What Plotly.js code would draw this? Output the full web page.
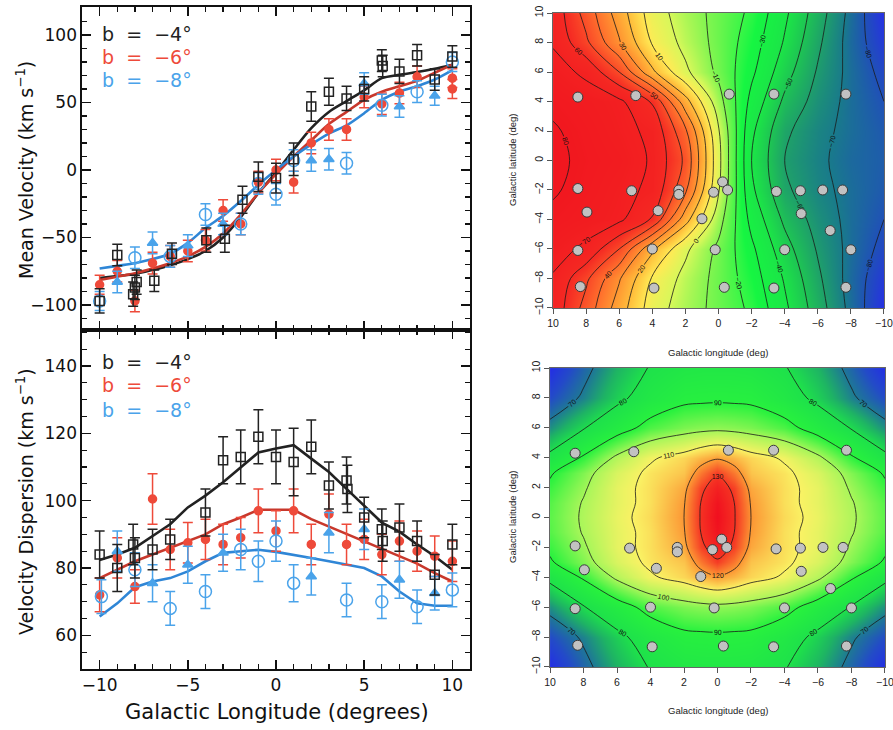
<!DOCTYPE html>
<html>
<head>
<meta charset="utf-8">
<script src="https://cdn.plot.ly/plotly-3.0.1.min.js"></script>
<style>html,body{margin:0;padding:0;background:#fff;}#chart{width:893px;height:730px;}</style>
</head>
<body>
<div id="chart"></div>
<script>
// ---------- Left panels: data ----------
// Mean velocity, b = -4 (black open squares)
const mvL4 = [-10, -9, -8.1, -8.0, -7.9, -6.9, -5.9, -3.95, -2.9, -1.9, -1, 0, 1, 2, 3, 4, 5, 6, 6.05, 7, 8, 9, 10];
const mvV4 = [-97, -63, -92, -87, -83, -82, -62, -52, -51, -22, -5, -6, 8, 47, 58, 53, 60, 81, 77, 73, 85, 67, 84];
const mvE4 = [9, 8, 9, 9, 9, 8, 8, 9, 10, 10, 11, 11, 12, 11, 10, 9, 9, 8, 8, 9, 8, 8, 8];
// Mean velocity, b = -6 (red filled circles)
const mvL6 = [-10, -9, -8, -7, -6, -5, -4, -3, -2, -1, 0, 1, 2, 3, 4, 5, 6, 7, 8, 10, 10];
const mvV6 = [-85, -75, -97, -69, -64, -60, -52, -30, -40, -9, 0, -9, 20, 30, 30, 54, 49, 57, 69, 68, 60];
const mvE6 = [7, 8, 8, 8, 8, 8, 8, 8, 8, 8, 8, 8, 8, 8, 8, 8, 8, 8, 8, 7, 7];
// Mean velocity, b = -8 (blue triangles and open circles)
const mvLt = [-9, -7, -5, -3, 2, 3, 5, 7, 9];
const mvVt = [-83, -54, -56, -40, 7, 8, 64, 47, 55];
const mvLc = [-10, -8, -6, -4, -2, -1, 0, 1, 4, 6, 8, 10];
const mvVc = [-97, -65, -64, -33, -40, -10, -18, 7, 5, 48, 58, 80];
const mvE8t = [8, 8, 8, 8, 8, 8, 8, 8, 7];
const mvE8c = [7, 8, 8, 8, 8, 8, 8, 8, 8, 8, 8, 7];
// Model curves (mean velocity)
const modelL = [-10, -9, -8, -7, -6, -5, -4, -3, -2, -1, 0, 1, 2, 3, 4, 5, 6, 7, 8, 9, 10];
const mvModel4 = [-80, -78.5, -77, -74, -70.5, -66, -60, -50, -35, -17, -2, 15, 31, 43, 51, 59, 68, 70.5, 72.5, 75, 78];
const mvModel6 = [-81.5, -79, -76.5, -73, -69, -64, -57, -47, -33, -17, -3, 10, 22, 34, 43, 52, 58, 62, 66, 72, 78];
const mvModel8 = [-73, -71, -69, -66, -62, -54, -43, -34, -23, -11, 0, 10, 19, 27, 33, 42, 52, 58, 62, 67, 74];

// Velocity dispersion, b = -4
const sdL4 = [-10, -9, -8.1, -8, -7, -6, -4, -3, -2, -1, 0, 1, 2, 3, 4, 4.05, 5, 6, 6.05, 7, 8, 9, 10];
const sdV4 = [84, 80, 87, 83, 85.5, 88.5, 96.5, 112, 113, 119, 113, 111.5, 116, 104.5, 106, 103.5, 95, 91.5, 88, 92, 88, 78, 87];
const sdE4 = [7, 7, 6, 6, 6, 6, 7, 7, 8, 8, 8, 10, 8, 7, 7, 7, 6, 6, 6, 7, 6, 6, 6];
// Velocity dispersion, b = -6
const sdL6 = [-10, -9, -8, -7, -6, -5, -4, -3, -2, -1, 0, 1, 2, 3, 4, 5, 6, 7, 8, 9, 10];
const sdV6 = [72, 83, 74.5, 100.5, 85.5, 87.5, 88.5, 87, 89, 97, 91, 97, 87, 96, 87, 88.5, 84, 88, 85, 83.5, 82];
const sdE6 = [5, 6, 5, 7.5, 6, 6, 6, 6, 6, 6.5, 6, 6.5, 6, 6, 6, 6, 6, 6, 6, 6, 6];
// Velocity dispersion, b = -8
const sdLt = [-9, -7, -5, -3, 2, 3, 5, 7, 9];
const sdVt = [85, 75.5, 81, 84.5, 77.5, 90.5, 91.5, 76.5, 72.5];
const sdLc = [-9.9, -8, -6, -4, -2, -1, 0, 1, 4, 6, 8, 10];
const sdVc = [71.5, 79.5, 68, 73, 85.5, 82, 88, 75.5, 70.5, 70, 68.5, 73.5];
const sdE8t = [6, 5.5, 5.5, 5.5, 5.5, 6, 6, 5.5, 5];
const sdE8c = [5, 5, 5, 5, 6, 6, 6, 5.5, 5, 5, 5, 5];
// Model curves (dispersion)
const sdModel4 = [82.4, 84, 86, 89.5, 93, 98, 101.5, 105.5, 110, 114.3, 115.5, 116.5, 112.5, 108.5, 103.5, 98.5, 93.5, 90.8, 87, 83.5, 79.5];
const sdModel6 = [77, 79.5, 82, 84, 86, 88, 90, 93, 95, 97.3, 97.3, 97.3, 94.5, 92.3, 90, 88, 85.7, 83.4, 81.3, 78.5, 76];
const sdModel8 = [65.6, 69.5, 74.3, 76, 77, 79, 82, 84.5, 85, 85.4, 84.8, 84, 83, 82, 81, 80, 77.5, 73, 69.5, 68.8, 68.8];

// ---------- Right panels: maps ----------
const mapL1 = [10, 8, 6, 4, 2, 0, -2, -4, -6, -8, -10];
const mapB1 = [-10, -8, -6, -4, -2, 0, 2, 4, 6, 8, 10];
const velMap = [
  [67, 46, 25, 5, -5, -13, -22, -38, -55, -73, -90],
  [69, 52, 31, 9, -3, -13, -25, -41, -58, -74, -87],
  [74, 68, 50, 22, 2, -12, -28, -46, -61, -73, -83],
  [78, 75, 72, 59, 24, -6, -33, -52, -64, -73, -80],
  [81, 77, 73, 68, 42, 1, -38, -58, -67, -73, -78],
  [82, 78, 75, 69, 48, 3, -40, -60, -68, -74, -77],
  [81, 77, 73, 68, 42, 1, -38, -58, -67, -73, -78],
  [78, 75, 72, 59, 24, -6, -33, -52, -64, -73, -80],
  [74, 68, 50, 22, 2, -12, -28, -46, -61, -73, -83],
  [69, 52, 31, 9, -3, -13, -25, -41, -58, -74, -87],
  [67, 46, 25, 5, -5, -13, -22, -38, -55, -73, -90]
];
const mapL2 = [10, 8, 6, 4, 2, 1, 0, -1, -2, -4, -6, -8, -10];
const mapB2 = [-10, -8, -6, -4, -3, -2, -1, 0, 1, 2, 3, 4, 6, 8, 10];
const dispMap = [
  [60, 68, 75, 80.5, 83.5, 84, 84, 84, 83.5, 80.5, 75, 68, 60],
  [65, 71, 78, 84, 88, 88.3, 88.5, 88.3, 88, 84, 78, 71, 65],
  [72, 79.5, 86, 93, 96.5, 97.5, 98, 97.5, 96.5, 93, 86, 79.5, 72],
  [82, 91, 101.5, 109, 113, 116.5, 119, 116.5, 113, 109, 101.5, 91, 82],
  [89, 97, 106, 111.5, 115, 123, 129, 123, 115, 111.5, 106, 97, 89],
  [91.5, 99, 107.5, 112, 118, 128.5, 133.5, 128.5, 118, 112, 107.5, 99, 91.5],
  [93.5, 100.5, 107.5, 112, 119.5, 130, 136, 130, 119.5, 112, 107.5, 100.5, 93.5],
  [94, 101, 108, 112.5, 120, 130.5, 137, 130.5, 120, 112.5, 108, 101, 94],
  [93.5, 100.5, 107.5, 112, 119.5, 130, 136, 130, 119.5, 112, 107.5, 100.5, 93.5],
  [91.5, 99, 107.5, 112, 118, 128.5, 133.5, 128.5, 118, 112, 107.5, 99, 91.5],
  [89, 97, 106, 111.5, 115, 123, 129, 123, 115, 111.5, 106, 97, 89],
  [82, 91, 101.5, 109, 113, 116.5, 119, 116.5, 113, 109, 101.5, 91, 82],
  [72, 79.5, 86, 93, 96.5, 97.5, 98, 97.5, 96.5, 93, 86, 79.5, 72],
  [65, 71, 78, 84, 88, 88.3, 88.5, 88.3, 88, 84, 78, 71, 65],
  [60, 68, 75, 80.5, 83.5, 84, 84, 84, 83.5, 80.5, 75, 68, 60]
];
// Field positions (grey points)
const fieldL = [8.5, 5.0, -0.65, -3.35, -7.7, 8.5, 5.25, 2.4, 2.4, 0.3, -0.25, -0.55, -3.5, -4.95, -6.3, -7.5, 7.95, 3.65, 1.0, -5.0, -6.75, 8.5, 4.0, 0.2, -4.0, -8.0, 8.35, 3.9, -0.35, -3.35, -7.7];
const fieldB = [4.3, 4.4, 4.5, 4.5, 4.5, -1.9, -2.05, -2.0, -2.3, -2.15, -1.45, -2.0, -2.1, -2.05, -2.0, -2.0, -3.5, -3.4, -3.95, -3.6, -4.75, -6.1, -6.0, -6.05, -6.05, -6.05, -8.55, -8.65, -8.6, -8.65, -8.6];

// ---------- styling ----------
const BLACK = '#222222', RED = '#ee4a3a', BLUE = '#4aa3ea', BLUEL = '#2f86d6';
const W = 893, H = 730;
const px = v => v / W, py = v => 1 - v / H;

function pts(x, y, e, color, symbol, size, xa, ya, lw) {
  return {x, y, type: 'scatter', mode: 'markers', xaxis: xa, yaxis: ya, showlegend: false,
    marker: {symbol, size, color, line: {color, width: lw || 1.5}},
    error_y: {type: 'data', array: e, visible: true, color, thickness: 1.5, width: 5}};
}
function line(x, y, color, xa, ya, shape) {
  return {x, y, type: 'scatter', mode: 'lines', xaxis: xa, yaxis: ya, showlegend: false,
    line: {color, width: 2.6, shape, smoothing: 0.8}};
}

const traces = [
  line(modelL, mvModel4, BLACK, 'x', 'y', 'spline'),
  line(modelL, mvModel6, '#c8382c', 'x', 'y', 'spline'),
  line(modelL, mvModel8, BLUEL, 'x', 'y', 'spline'),
  pts(mvL6, mvV6, mvE6, RED, 'circle', 8, 'x', 'y'),
  pts(mvLt, mvVt, mvE8t, BLUE, 'triangle-up', 9, 'x', 'y'),
  pts(mvLc, mvVc, mvE8c, BLUE, 'circle-open', 12, 'x', 'y'),
  pts(mvL4, mvV4, mvE4, BLACK, 'square-open', 9, 'x', 'y'),

  line(modelL, sdModel4, BLACK, 'x2', 'y2', 'linear'),
  line(modelL, sdModel6, '#c8382c', 'x2', 'y2', 'linear'),
  line(modelL, sdModel8, BLUEL, 'x2', 'y2', 'linear'),
  pts(sdL6, sdV6, sdE6, RED, 'circle', 8, 'x2', 'y2'),
  pts(sdLt, sdVt, sdE8t, BLUE, 'triangle-up', 9, 'x2', 'y2'),
  pts(sdLc, sdVc, sdE8c, BLUE, 'circle-open', 12, 'x2', 'y2'),
  pts(sdL4, sdV4, sdE4, BLACK, 'square-open', 9, 'x2', 'y2'),

  {type: 'contour', x: mapL1, y: mapB1, z: velMap, xaxis: 'x3', yaxis: 'y3', showscale: false,
   zmin: -92, zmax: 86, zauto: false,
   colorscale: [[0, 'rgb(40,40,240)'], [0.067, 'rgb(32,80,185)'], [0.124, 'rgb(25,122,140)'], [0.18, 'rgb(30,158,108)'],
     [0.236, 'rgb(30,195,85)'], [0.292, 'rgb(28,228,72)'], [0.376, 'rgb(22,246,66)'], [0.461, 'rgb(130,245,80)'],
     [0.517, 'rgb(215,248,90)'], [0.573, 'rgb(255,235,85)'], [0.629, 'rgb(255,190,60)'], [0.685, 'rgb(255,150,50)'],
     [0.742, 'rgb(255,112,45)'], [0.798, 'rgb(250,75,40)'], [0.854, 'rgb(245,42,35)'], [1, 'rgb(240,18,30)']],
   contours: {coloring: 'heatmap', start: -80, end: 80, size: 10, showlabels: true,
     labelfont: {size: 7, color: '#111', family: 'Liberation Sans'}},
   line: {color: '#1a1a1a', width: 0.8, smoothing: 1}, hoverinfo: 'skip'},
  {type: 'scatter', mode: 'markers', x: fieldL, y: fieldB, xaxis: 'x3', yaxis: 'y3', showlegend: false,
   marker: {size: 10, color: '#c2c2c2', line: {color: '#3a3a3a', width: 1}}},

  {type: 'contour', x: mapL2, y: mapB2, z: dispMap, xaxis: 'x4', yaxis: 'y4', showscale: false,
   zmin: 58, zmax: 138, zauto: false,
   colorscale: [[0, 'rgb(35,35,240)'], [0.0875, 'rgb(35,75,200)'], [0.15, 'rgb(30,120,150)'], [0.2125, 'rgb(30,180,100)'],
     [0.275, 'rgb(30,225,75)'], [0.4, 'rgb(40,242,62)'], [0.525, 'rgb(170,246,90)'], [0.65, 'rgb(250,242,100)'],
     [0.775, 'rgb(252,150,52)'], [0.9, 'rgb(245,50,35)'], [1, 'rgb(240,10,30)']],
   contours: {coloring: 'heatmap', start: 70, end: 130, size: 10, showlabels: true,
     labelfont: {size: 7, color: '#111', family: 'Liberation Sans'}},
   line: {color: '#1a1a1a', width: 0.8, smoothing: 1}, hoverinfo: 'skip'},
  {type: 'scatter', mode: 'markers', x: fieldL, y: fieldB, xaxis: 'x4', yaxis: 'y4', showlegend: false,
   marker: {size: 10, color: '#c2c2c2', line: {color: '#3a3a3a', width: 1}}}
];

const LFONT = {family: 'DejaVu Sans', size: 17, color: '#111'};
function leftAxis(extra) {
  return Object.assign({showgrid: false, zeroline: false, showline: true, linecolor: '#111', linewidth: 1.6,
    mirror: 'allticks', ticks: 'inside', ticklen: 9, tickwidth: 1.5, tickcolor: '#111', tickfont: LFONT,
    ticklabeloverflow: 'allow'}, extra);
}
function rightAxis(extra) {
  return Object.assign({showgrid: false, zeroline: false, showline: true, linecolor: '#666', linewidth: 1,
    mirror: true, ticks: 'outside', ticklen: 5, tickwidth: 1, tickcolor: '#555', ticklabeloverflow: 'allow',
    tickfont: {family: 'Liberation Sans', size: 10.5, color: '#222'}, dtick: 2, tick0: 0}, extra);
}

const xL = [px(82), px(470)];
const layout = {
  width: W, height: H, margin: {l: 0, r: 0, t: 0, b: 0}, paper_bgcolor: '#fff', plot_bgcolor: '#fff', showlegend: false,
  xaxis: leftAxis({domain: xL, range: [-11, 11], anchor: 'y', dtick: 5, tick0: 0, showticklabels: false,
    minor: {dtick: 1, ticks: 'inside', ticklen: 5, tickwidth: 1.2, tickcolor: '#111'}}),
  yaxis: leftAxis({domain: [py(330), py(7)], range: [-118.5, 120.7], anchor: 'x', dtick: 50, tick0: 0,
    minor: {dtick: 10, ticks: 'inside', ticklen: 5, tickwidth: 1.2, tickcolor: '#111'}}),
  xaxis2: leftAxis({domain: xL, range: [-11, 11], anchor: 'y2', dtick: 5, tick0: 0,
    minor: {dtick: 1, ticks: 'inside', ticklen: 5, tickwidth: 1.2, tickcolor: '#111'}}),
  yaxis2: leftAxis({domain: [py(669), py(330)], range: [50, 150.7], anchor: 'x2', dtick: 20, tick0: 0,
    minor: {dtick: 5, ticks: 'inside', ticklen: 5, tickwidth: 1.2, tickcolor: '#111'}}),
  xaxis3: rightAxis({domain: [px(553), px(884)], range: [10.002, -10.002], anchor: 'y3'}),
  yaxis3: rightAxis({domain: [py(308), py(13)], range: [-10.002, 10.002], anchor: 'x3', tickangle: -90}),
  xaxis4: rightAxis({domain: [px(550), px(885)], range: [10.002, -10.002], anchor: 'y4'}),
  yaxis4: rightAxis({domain: [py(667), py(368)], range: [-10.002, 10.002], anchor: 'x4', tickangle: -90}),
  annotations: []
};

const NB = '\u00a0\u00a0';
const legendTexts = ['b' + NB + '=' + NB + '\u22124°', 'b' + NB + '=' + NB + '\u22126°', 'b' + NB + '=' + NB + '\u22128°'];
const legendColors = [BLACK, RED, BLUE];
const legTop = [34, 57, 80], legBot = [362, 385, 410];
function ann(text, x, y, size, color, family, angle, xanchor) {
  layout.annotations.push({text, x: px(x), y: py(y), xref: 'paper', yref: 'paper', showarrow: false,
    xanchor: xanchor || 'center', yanchor: 'middle', textangle: angle || 0,
    font: {size, color, family}});
}
legendTexts.forEach((t, i) => {
  ann(t, 100, legTop[i], 19, legendColors[i], 'DejaVu Sans', 0, 'left');
  ann(t, 100, legBot[i], 19, legendColors[i], 'DejaVu Sans', 0, 'left');
});
ann('Mean Velocity (km s<sup>\u22121</sup>)', 25, 170, 19, '#111', 'DejaVu Sans', -90);
ann('Velocity Dispersion (km s<sup>\u22121</sup>)', 25, 502, 19, '#111', 'DejaVu Sans', -90);
ann('Galactic Longitude (degrees)', 277, 712, 21, '#111', 'DejaVu Sans', 0);
ann('Galactic latitude (deg)', 512, 160, 9.5, '#222', 'Liberation Sans', -90);
ann('Galactic latitude (deg)', 512, 517, 9.5, '#222', 'Liberation Sans', -90);
ann('Galactic longitude (deg)', 718, 352, 9.5, '#222', 'Liberation Sans', 0);
ann('Galactic longitude (deg)', 718, 710, 9.5, '#222', 'Liberation Sans', 0);

Plotly.newPlot('chart', traces, layout, {displayModeBar: false, staticPlot: true});
</script>
</body>
</html>
